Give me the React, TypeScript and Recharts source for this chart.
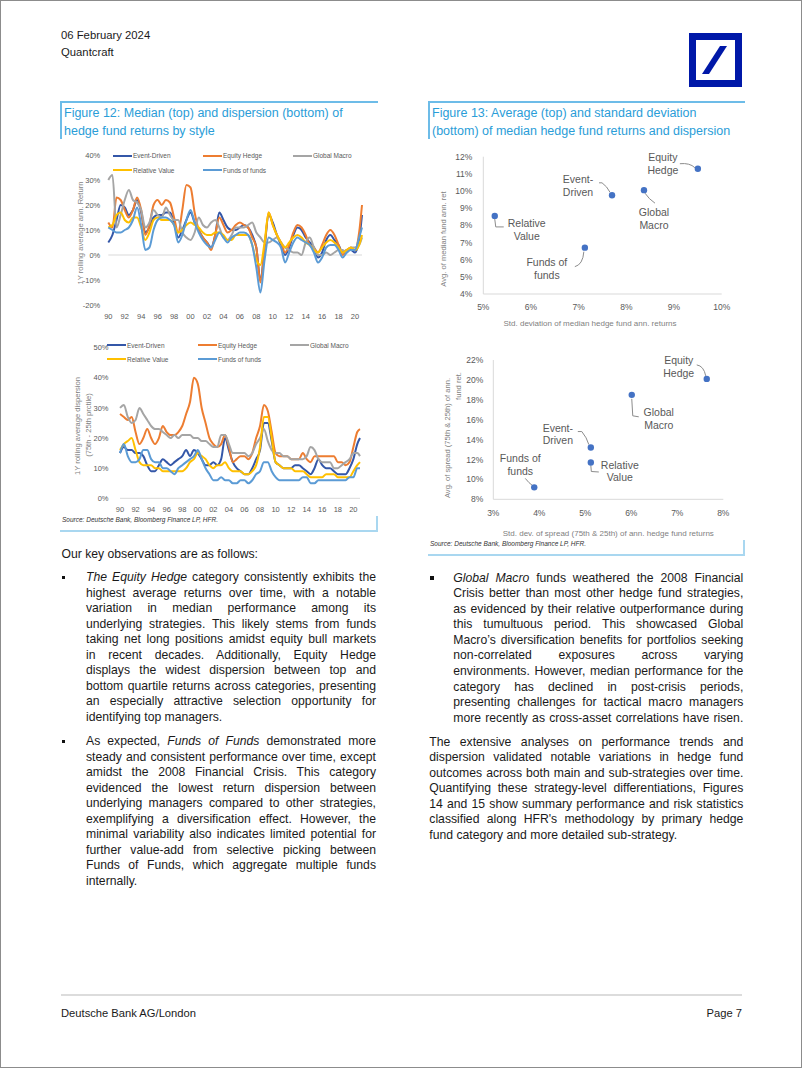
import React from "react";
import { LineChart, Line, XAxis, YAxis, ReferenceLine, ScatterChart, Scatter } from "recharts";

// half-year sample points, last one is the latest obs
const years = [
  1990, 1990.5, 1991, 1991.5, 1992, 1992.5, 1993, 1993.5, 1994, 1994.5,
  1995, 1995.5, 1996, 1996.5, 1997, 1997.5, 1998, 1998.5, 1999, 1999.5,
  2000, 2000.5, 2001, 2001.5, 2002, 2002.5, 2003, 2003.5, 2004, 2004.5,
  2005, 2005.5, 2006, 2006.5, 2007, 2007.5, 2008, 2008.5, 2009, 2009.5,
  2010, 2010.5, 2011, 2011.5, 2012, 2012.5, 2013, 2013.5, 2014, 2014.5,
  2015, 2015.5, 2016, 2016.5, 2017, 2017.5, 2018, 2018.5, 2019, 2019.5,
  2020, 2020.5, 2020.85,
];
const yearTicks = [1990, 1992, 1994, 1996, 1998, 2000, 2002, 2004, 2006, 2008, 2010, 2012, 2014, 2016, 2018, 2020];

const strategies = ["Event-Driven", "Equity Hedge", "Global Macro", "Relative Value", "Funds of funds"];
const strategyKeys = ["ed", "eh", "gm", "rv", "fof"];
const strategyColors = ["#3457A8", "#ED7D31", "#A5A5A5", "#FFC000", "#5B9BD5"];

// 1Y rolling average ann. return (%)
const retED = [
  5, 8, 14, 20, 19, 16, 18, 22, 17, 9, 11, 15, 16, 16, 17, 17, 13, 7, 10, 14, 17, 13,
  10, 7, 5, 3, 8, 17, 14, 11, 10, 10, 11, 12, 11, 8, 3, -10, 3, 16, 13, 8, 4, 0, 3, 8, 11, 10, 7, 5,
  3, -1, 1, 6, 8, 6, 4, 1, 2, 2, 1, 6, 16,
];
const retEH = [
  13, 11, 23, 22, 18, 15, 18, 23, 18, 8, 12, 20, 22, 20, 22, 21, 15, 9, 18, 28, 27, 17,
  10, 7, 5, 2, 8, 15, 12, 9, 10, 12, 13, 12, 11, 7, 3, -11, 3, 17, 12, 8, 5, 1, 4, 9, 12, 11, 8, 4,
  3, 1, 4, 8, 10, 8, 4, 0, 2, 3, 2, 9, 20,
];
const retGM = [
  30, 32, 11, 16, 22, 26, 22, 21, 18, 11, 13, 18, 16, 15, 19, 16, 14, 14, 9, 7, 6, 9,
  15, 12, 11, 13, 14, 11, 7, 6, 8, 11, 11, 11, 12, 13, 9, 7, 5, 5, 6, 7, 5, 3, 2, 1, 1, 0, 5, 7,
  3, 0, 0, 1, 0, 1, 2, 2, 1, 3, 3, 4, 7,
];
const retRV = [
  11, 12, 16, 17, 14, 13, 15, 15, 11, 6, 9, 14, 15, 14, 14, 14, 12, 9, 10, 12, 13, 12,
  11, 9, 8, 8, 9, 9, 8, 6, 6, 8, 8, 8, 8, 4, -2, -4, 5, 17, 12, 8, 5, 3, 5, 7, 8, 7, 5, 4,
  2, 1, 3, 5, 6, 5, 3, 1, 2, 3, 2, 4, 8,
];
const retFOF = [
  11, 10, 9, 9, 10, 11, 14, 19, 12, 2, 3, 10, 14, 15, 15, 14, 12, 5, 8, 14, 18, 13,
  9, 6, 4, 3, 6, 9, 7, 5, 7, 8, 9, 9, 8, 4, -5, -15, -2, 7, 6, 5, 3, -3, 1, 5, 7, 6, 5, 4,
  1, -3, -1, 3, 4, 4, 2, -1, 1, 2, 2, 7, 11,
];

// 1Y rolling average dispersion, 75th - 25th pctile (%)
const dispED = [
  15, 17, 16, 16, 15, 15, 14, 11, 9, 9,
  11, 13, 12, 11, 12, 13, 14, 16, 14, 16,
  15, 13, 11, 11, 12, 11, 13, 20, 16, 12,
  10, 9, 8, 8, 10, 13, 16, 25, 25, 19,
  12, 11, 10, 10, 10, 11, 11, 10, 9, 8,
  10, 13, 11, 10, 10, 9, 8, 8, 8, 10,
  13, 18, 20,
];
const dispEH = [
  28, 27, 26, 27, 22, 18, 20, 23, 20, 18,
  20, 24, 22, 21, 21, 22, 24, 28, 32, 40,
  38, 30, 25, 20, 18, 17, 18, 21, 17, 12,
  13, 14, 14, 13, 15, 20, 24, 31, 29, 22,
  15, 14, 14, 14, 13, 13, 13, 15, 13, 12,
  14, 14, 14, 14, 14, 14, 12, 12, 11, 12,
  17, 22, 23,
];
const dispGM = [
  30, 31, 27, 25, 26, 30, 28, 26, 24, 23,
  23, 22, 21, 20, 21, 20, 21, 21, 21, 20,
  20, 19, 19, 18, 17, 17, 21, 21, 18, 15,
  15, 15, 15, 14, 15, 18, 20, 23, 19, 16,
  15, 15, 14, 14, 13, 13, 13, 13, 14, 17,
  16, 13, 12, 12, 12, 10, 10, 11, 12, 13,
  15, 15, 14,
];
const dispRV = [
  16, 18, 19, 20, 16, 12, 11, 11, 11, 10,
  10, 9, 9, 9, 9, 9, 9, 10, 12, 13,
  15, 14, 13, 11, 10, 11, 11, 12, 10, 9,
  9, 9, 8, 8, 9, 11, 17, 27, 27, 20,
  12, 11, 10, 10, 10, 9, 9, 9, 8, 7,
  7, 7, 7, 8, 8, 8, 7, 7, 7, 7,
  9, 11, 12,
];
const dispFOF = [
  15, 18, 14, 12, 12, 13, 16, 16, 13, 12,
  12, 10, 10, 9, 8, 10, 11, 12, 13, 14,
  16, 13, 10, 8, 6, 6, 7, 6, 6, 5,
  5, 6, 6, 5, 6, 8, 9, 12, 12, 9,
  7, 6, 6, 6, 6, 6, 6, 7, 7, 5,
  5, 6, 6, 6, 6, 6, 6, 6, 6, 7,
  7, 10, 10,
];

// figure 13 scatters, same order as strategies
const labelLines = [["Event-", "Driven"], ["Equity", "Hedge"], ["Global", "Macro"], ["Relative", "Value"], ["Funds of", "funds"]];
const medianStd = [7.7, 9.5, 8.37, 5.24, 7.13];
const medianAvg = [9.75, 11.3, 10.05, 8.55, 6.7];
const spreadStd = [5.12, 7.64, 6.01, 5.12, 3.89];
const spreadAvg = [13.2, 20.1, 18.5, 11.7, 9.2];

const returnsData = years.map((year, i) => ({
  year, ed: retED[i], eh: retEH[i], gm: retGM[i], rv: retRV[i], fof: retFOF[i],
}));
const dispersionData = years.map((year, i) => ({
  year, ed: dispED[i], eh: dispEH[i], gm: dispGM[i], rv: dispRV[i], fof: dispFOF[i],
}));
const medianPoints = strategies.map((name, i) => ({ name, lines: labelLines[i], x: medianStd[i], y: medianAvg[i] }));
const spreadPoints = strategies.map((name, i) => ({ name, lines: labelLines[i], x: spreadStd[i], y: spreadAvg[i] }));

// label placement around each dot (px, relative to dot)
const medianLabelPos: Record<string, any> = {
  "Equity Hedge": { dx: -35, dy1: -12, dy2: 1, leader: "M -18 -5 Q -8 -6 -3 -1" },
  "Event-Driven": { dx: -34, dy1: -16, dy2: -3, leader: "M -13 -12.5 L -10 -12.5 Q -5 -9 -2 -3" },
  "Global Macro": { dx: 10, dy1: 22, dy2: 35, leader: "M 1 3 Q 5 9 11 13" },
  "Relative Value": { dx: 32, dy1: 7, dy2: 20, leader: "M 0 3 L 1 11 L 9 11" },
  "Funds of funds": { dx: -38, dy1: 14, dy2: 27, leader: "M -1 4 Q -2 17 -10 19" },
};
const spreadLabelPos: Record<string, any> = {
  "Equity Hedge": { dx: -28, dy1: -19, dy2: -6, leader: "M -10 -14 Q -3 -13 -1 -3" },
  "Global Macro": { dx: 27, dy1: 17, dy2: 30, leader: "M 0 4 L 1 21 L 7 22" },
  "Event-Driven": { dx: -33, dy1: -20, dy2: -8, leader: "M -13 -16 L -9 -16 Q -4 -10 -2 -3" },
  "Relative Value": { dx: 29, dy1: 3, dy2: 15, leader: "M 0 3 L 0.5 9 L 8 9.5" },
  "Funds of funds": { dx: -14, dy1: -29, dy2: -16, leader: "M -9 -9 Q -5 -4 -2 -2" },
};

const SANS = "'Liberation Sans', Arial, sans-serif";
const AXIS_GREY = "#D9D9D9";
const TICK_GREY = "#595959";
const FIG_BLUE = "#2A9DD8";
const FIG_LINE = "#6DBCE8";

const pct = (v: number) => `${v}%`;
const yy = (v: number) => String(v % 100).padStart(2, "0");

const abs = (left: number, top: number, extra: React.CSSProperties = {}): React.CSSProperties => ({
  position: "absolute", left, top, ...extra,
});

const LegendBlock = ({ items }: { items: { x: number; y: number; i: number }[] }) => (
  <>
    {items.map(({ x, y, i }) => (
      <div key={i} style={abs(x, y - 5, { height: 10, display: "flex", alignItems: "center", whiteSpace: "nowrap" })}>
        <div style={{ width: 19, height: 2, background: strategyColors[i] }} />
        <span style={{ fontSize: 6.5, color: TICK_GREY, marginLeft: 1, fontFamily: SANS }}>{strategies[i]}</span>
      </div>
    ))}
  </>
);

const RotatedTitle = ({ x, y, text, size = 7.6 }: { x: number; y: number; text: string; size?: number }) => (
  <div
    style={abs(x, y, {
      transform: "translate(-50%, -50%) rotate(-90deg)",
      whiteSpace: "nowrap", fontSize: size, color: "#7F7F7F", fontFamily: SANS,
    })}
  >
    {text}
  </div>
);

const StyleLines = ({ data, width, height, margin, yAxisWidth, yDomain, yTicks, yGap, xGap, zeroLine }: any) => (
  <LineChart width={width} height={height} data={data} margin={margin}>
    <XAxis
      type="number" dataKey="year" domain={[1990, 2020.85]} ticks={yearTicks} tickFormatter={yy}
      axisLine={zeroLine ? false : { stroke: AXIS_GREY }} tickLine={false} tickSize={0} tickMargin={xGap} height={20}
      tick={{ fontSize: 7.5, fill: TICK_GREY, fontFamily: SANS }} interval={0}
    />
    <YAxis
      type="number" domain={yDomain} ticks={yTicks} tickFormatter={pct} width={yAxisWidth}
      axisLine={false} tickLine={false} tickSize={0} tickMargin={yGap}
      tick={{ fontSize: 7.5, fill: TICK_GREY, fontFamily: SANS }} interval={0}
    />
    {zeroLine && <ReferenceLine y={0} stroke={AXIS_GREY} strokeWidth={1} />}
    {strategyKeys.map((k, i) => (
      <Line key={k} type="monotone" dataKey={k} stroke={strategyColors[i]} strokeWidth={2} dot={false} isAnimationActive={false} />
    ))}
  </LineChart>
);

const LabelledDot = (props: any) => {
  const { cx, cy, payload, pos } = props;
  const p = pos[payload.name];
  const textStyle = { fontSize: 10.5, fill: TICK_GREY, fontFamily: SANS };
  return (
    <g>
      <g transform={`translate(${cx},${cy})`}>
        <path d={p.leader} stroke="#8C8C8C" strokeWidth={1} fill="none" />
      </g>
      <circle cx={cx} cy={cy} r={3.2} fill="#4472C4" />
      <text x={cx + p.dx} y={cy + p.dy1} textAnchor="middle" dominantBaseline="central" style={textStyle}>{payload.lines[0]}</text>
      <text x={cx + p.dx} y={cy + p.dy2} textAnchor="middle" dominantBaseline="central" style={textStyle}>{payload.lines[1]}</text>
    </g>
  );
};

const StyleScatter = ({ data, width, height, margin, yAxisWidth, xDomain, xTicks, yDomain, yTicks, yGap, xGap, pos }: any) => (
  <ScatterChart width={width} height={height} margin={margin}>
    <XAxis
      type="number" dataKey="x" domain={xDomain} ticks={xTicks} tickFormatter={pct} height={30}
      axisLine={{ stroke: AXIS_GREY }} tickLine={false} tickSize={0} tickMargin={xGap}
      tick={{ fontSize: 8.5, fill: TICK_GREY, fontFamily: SANS }} interval={0}
    />
    <YAxis
      type="number" dataKey="y" domain={yDomain} ticks={yTicks} tickFormatter={pct} width={yAxisWidth}
      axisLine={{ stroke: AXIS_GREY }} tickLine={false} tickSize={0} tickMargin={yGap}
      tick={{ fontSize: 8.5, fill: TICK_GREY, fontFamily: SANS }} interval={0}
    />
    <Scatter data={data} isAnimationActive={false} shape={(p: any) => <LabelledDot {...p} pos={pos} />} />
  </ScatterChart>
);

// body copy, one entry per printed line (_x_ = italic)
const obsBullet1 = [
  "_The Equity Hedge_ category consistently exhibits the",
  "highest average returns over time, with a notable",
  "variation in median performance among its",
  "underlying strategies. This likely stems from funds",
  "taking net long positions amidst equity bull markets",
  "in recent decades. Additionally, Equity Hedge",
  "displays the widest dispersion between top and",
  "bottom quartile returns across categories, presenting",
  "an especially attractive selection opportunity for",
  "identifying top managers.",
];
const obsBullet2 = [
  "As expected, _Funds of Funds_ demonstrated more",
  "steady and consistent performance over time, except",
  "amidst the 2008 Financial Crisis. This category",
  "evidenced the lowest return dispersion between",
  "underlying managers compared to other strategies,",
  "exemplifying a diversification effect. However, the",
  "minimal variability also indicates limited potential for",
  "further value-add from selective picking between",
  "Funds of Funds, which aggregate multiple funds",
  "internally.",
];
const obsBullet3 = [
  "_Global Macro_ funds weathered the 2008 Financial",
  "Crisis better than most other hedge fund strategies,",
  "as evidenced by their relative outperformance during",
  "this tumultuous period. This showcased Global",
  "Macro’s diversification benefits for portfolios seeking",
  "non-correlated exposures across varying",
  "environments. However, median performance for the",
  "category has declined in post-crisis periods,",
  "presenting challenges for tactical macro managers",
  "more recently as cross-asset correlations have risen.",
];
const closingPara = [
  "The extensive analyses on performance trends and",
  "dispersion validated notable variations in hedge fund",
  "outcomes across both main and sub-strategies over time.",
  "Quantifying these strategy-level differentiations, Figures",
  "14 and 15 show summary performance and risk statistics",
  "classified along HFR's methodology by primary hedge",
  "fund category and more detailed sub-strategy.",
];

const Para = ({ lines, x, y, w, step = 15.55, lastJustified = false }: any) => (
  <>
    {lines.map((line: string, i: number) => {
      const last = i === lines.length - 1 && !lastJustified;
      const parts = line.split("_");
      return (
        <div
          key={i}
          style={abs(x, y + i * step - 8, {
            width: w, height: 16, lineHeight: "16px", fontSize: 12.2, fontFamily: SANS, color: "#1a1a1a",
            whiteSpace: "nowrap", textAlign: last ? "left" : "justify", textAlignLast: last ? "left" : "justify",
          } as React.CSSProperties)}
        >
          {parts.map((s, j) => (j % 2 === 1 ? <i key={j}>{s}</i> : <React.Fragment key={j}>{s}</React.Fragment>))}
        </div>
      );
    })}
  </>
);

const Bullet = ({ x, y }: { x: number; y: number }) => (
  <div style={abs(x, y, { width: 3.5, height: 3.5, background: "#111" })} />
);

const FigureTitle = ({ x, lines }: { x: number; lines: string[] }) => (
  <>
    {lines.map((t, i) => (
      <div key={i} style={abs(x, 113 + i * 18 - 9, { height: 18, lineHeight: "18px", fontSize: 12.5, fontFamily: SANS, color: FIG_BLUE, whiteSpace: "nowrap" })}>
        {t}
      </div>
    ))}
  </>
);

const SourceNote = ({ x, y }: { x: number; y: number }) => (
  <div style={abs(x, y - 5, { fontSize: 6.5, lineHeight: "10px", fontStyle: "italic", fontFamily: SANS, color: "#333", whiteSpace: "nowrap" })}>
    Source: Deutsche Bank, Bloomberg Finance LP, HFR.
  </div>
);

const App = () => {
  return (
    <div style={{ position: "absolute", left: 0, top: 0, width: 802, height: 1068, background: "#fff", fontFamily: SANS, overflow: "hidden" }}>
      <div style={abs(0, 0, { width: 802, height: 1068, border: "1px solid #8c8c8c", boxSizing: "border-box" })} />

      {/* header */}
      <div style={abs(61, 27, { fontSize: 11.3, lineHeight: "16px", color: "#1a1a1a", whiteSpace: "nowrap" })}>06 February 2024</div>
      <div style={abs(61, 44, { fontSize: 11.3, lineHeight: "16px", color: "#1a1a1a", whiteSpace: "nowrap" })}>Quantcraft</div>
      <svg style={abs(689, 33)} width={53} height={54}>
        <rect x={0} y={0} width={53} height={54} fill="#0018A8" />
        <rect x={7} y={7} width={39} height={40} fill="#fff" />
        <polygon points="13,41 20,41 38,13 31,13" fill="#0018A8" />
      </svg>

      {/* figure 12 frame */}
      <div style={abs(60, 101, { width: 318, height: 2, background: FIG_LINE })} />
      <div style={abs(60, 101, { width: 2, height: 38, background: FIG_LINE })} />
      <FigureTitle x={64} lines={["Figure 12: Median (top) and dispersion (bottom) of", "hedge fund returns by style"]} />
      <div style={abs(60, 530, { width: 318, height: 2, background: "#A9D7F0" })} />
      <div style={abs(376, 516, { width: 2, height: 16, background: "#A9D7F0" })} />
      <SourceNote x={62} y={519.5} />

      {/* figure 13 frame */}
      <div style={abs(428, 101, { width: 317, height: 2, background: FIG_LINE })} />
      <div style={abs(428, 101, { width: 2, height: 38, background: FIG_LINE })} />
      <FigureTitle x={432} lines={["Figure 13: Average (top) and standard deviation", "(bottom) of median hedge fund returns and dispersion"]} />
      <div style={abs(428, 554, { width: 317, height: 2, background: "#A9D7F0" })} />
      <div style={abs(743, 540, { width: 2, height: 16, background: "#A9D7F0" })} />
      <SourceNote x={430} y={543.5} />

      {/* median returns */}
      <div style={abs(60, 140)}>
        <StyleLines
          data={returnsData} width={320} height={190}
          margin={{ top: 15, right: 18, bottom: 5, left: 0 }} yAxisWidth={48.3}
          yDomain={[-20, 40]} yTicks={[-20, -10, 0, 10, 20, 30, 40]} yGap={8} xGap={8.3} zeroLine
        />
      </div>
      <RotatedTitle x={80} y={233} text="1Y rolling average ann. Return" />
      <LegendBlock items={[
        { x: 113, y: 155.7, i: 0 }, { x: 203, y: 155.7, i: 1 }, { x: 293, y: 155.7, i: 2 },
        { x: 113, y: 170, i: 3 }, { x: 203, y: 170, i: 4 },
      ]} />

      {/* dispersion */}
      <div style={abs(60, 335)}>
        <StyleLines
          data={dispersionData} width={320} height={190}
          margin={{ top: 12.7, right: 20, bottom: 6.7, left: 0 }} yAxisWidth={60}
          yDomain={[0, 50]} yTicks={[0, 10, 20, 30, 40, 50]} yGap={11.5} xGap={8} zeroLine={false}
        />
      </div>
      <RotatedTitle x={77} y={425.5} text="1Y rolling average dispersion" />
      <RotatedTitle x={87.5} y={425} text="(75th - 25th prctile)" />
      <LegendBlock items={[
        { x: 107, y: 345, i: 0 }, { x: 198, y: 345, i: 1 }, { x: 290, y: 345, i: 2 },
        { x: 107, y: 359, i: 3 }, { x: 198, y: 359, i: 4 },
      ]} />

      {/* average vs std of median returns */}
      <div style={abs(425, 140)}>
        <StyleScatter
          data={medianPoints} width={320} height={200}
          margin={{ top: 16.7, right: 23.3, bottom: 16, left: 0 }} yAxisWidth={58.3}
          xDomain={[5, 10]} xTicks={[5, 6, 7, 8, 9, 10]} yDomain={[4, 12]} yTicks={[4, 5, 6, 7, 8, 9, 10, 11, 12]}
          yGap={11} xGap={9.7} pos={medianLabelPos}
        />
      </div>
      <RotatedTitle x={443} y={238.5} text="Avg. of median  fund ann. ret" />
      <div style={abs(590, 322.7, { transform: "translate(-50%, -50%)", fontSize: 8, color: "#7F7F7F", whiteSpace: "nowrap" })}>
        Std. deviation of median  hedge fund ann. returns
      </div>

      {/* average vs std of dispersion */}
      <div style={abs(425, 340)}>
        <StyleScatter
          data={spreadPoints} width={320} height={210}
          margin={{ top: 20, right: 21.7, bottom: 20.7, left: 0 }} yAxisWidth={68.3}
          xDomain={[3, 8]} xTicks={[3, 4, 5, 6, 7, 8]} yDomain={[8, 22]} yTicks={[8, 10, 12, 14, 16, 18, 20, 22]}
          yGap={10} xGap={11} pos={spreadLabelPos}
        />
      </div>
      <RotatedTitle x={446.7} y={437.5} text="Avg. of spread (75th & 25th) of ann." />
      <RotatedTitle x={458.3} y={386} text="fund ret." />
      <div style={abs(608.3, 532.7, { transform: "translate(-50%, -50%)", fontSize: 8, color: "#7F7F7F", whiteSpace: "nowrap" })}>
        Std. dev. of spread (75th & 25th) of  ann. hedge fund returns
      </div>

      {/* body text */}
      <div style={abs(61.5, 546, { fontSize: 12.2, lineHeight: "16px", color: "#1a1a1a", whiteSpace: "nowrap" })}>
        Our key observations are as follows:
      </div>
      <Bullet x={61.5} y={575.5} />
      <Para lines={obsBullet1} x={86} y={577} w={290} />
      <Bullet x={61.5} y={739.5} />
      <Para lines={obsBullet2} x={86} y={741} w={290} />

      <Bullet x={430} y={576} />
      <Para lines={obsBullet3} x={453.3} y={577.7} w={290} lastJustified />
      <Para lines={closingPara} x={429.3} y={741.5} w={314} />

      {/* footer */}
      <div style={abs(61, 994, { width: 681, height: 2, background: "#DCDCDC" })} />
      <div style={abs(61, 1005, { fontSize: 11.2, lineHeight: "16px", color: "#1a1a1a", whiteSpace: "nowrap" })}>Deutsche Bank AG/London</div>
      <div style={abs(642, 1005, { width: 100, textAlign: "right", fontSize: 11.2, lineHeight: "16px", color: "#1a1a1a" })}>Page 7</div>
    </div>
  );
};

export default App;
